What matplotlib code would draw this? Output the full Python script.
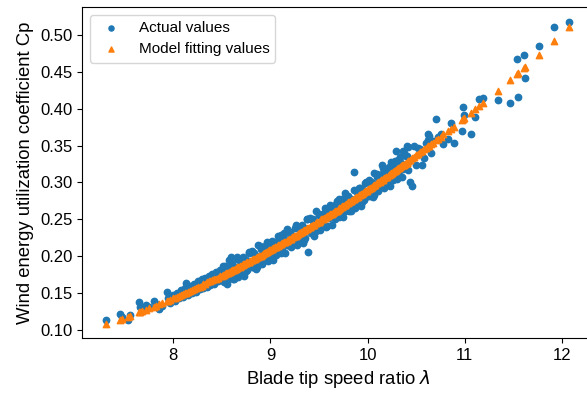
import matplotlib
matplotlib.use("Agg")
import matplotlib.pyplot as plt

plt.rcParams['font.family'] = ['Liberation Sans', 'DejaVu Sans']

# Blade tip speed ratio (lambda) for each sample
lam = [
    7.31, 7.45, 7.47, 7.53, 7.55, 7.65, 7.66, 7.68, 7.72, 7.75, 7.80, 7.82, 7.85, 7.88,
    7.93, 7.95, 7.97, 8.00, 8.02, 8.04, 8.06, 8.08, 8.10, 8.12, 8.13, 8.15, 8.17, 8.19,
    8.21, 8.23, 8.25, 8.27, 8.29, 8.31, 8.33, 8.35, 8.37, 8.38, 8.40, 8.42, 8.44, 8.46,
    8.48, 8.50,
    8.51, 8.52, 8.54, 8.55, 8.57, 8.58, 8.60, 8.61, 8.63, 8.64, 8.66, 8.67, 8.69, 8.70,
    8.72, 8.73, 8.75, 8.76, 8.78, 8.79, 8.81, 8.82, 8.84, 8.85, 8.87, 8.88, 8.90, 8.91,
    8.93, 8.94, 8.96, 8.97, 8.99, 9.00, 9.02, 9.03, 9.05, 9.06, 9.08, 9.09, 9.11, 9.12,
    9.14, 9.15, 9.17, 9.18, 9.20, 9.21, 9.23, 9.24, 9.26, 9.27, 9.29, 9.30, 9.32, 9.33,
    9.35, 9.36, 9.38, 9.39, 9.41, 9.42, 9.44, 9.45, 9.47, 9.48, 9.50, 9.51, 9.53, 9.54,
    9.56, 9.57, 9.59, 9.60, 9.62, 9.63, 9.65, 9.66, 9.68, 9.69, 9.71, 9.72, 9.74, 9.75,
    9.77, 9.78, 9.80, 9.81, 9.83, 9.84, 9.86, 9.87, 9.89, 9.90, 9.92, 9.93, 9.95, 9.96,
    9.98, 9.99, 10.01, 10.02, 10.04, 10.05, 10.07, 10.08, 10.10, 10.11, 10.13, 10.14,
    10.16, 10.17, 10.19, 10.20, 10.22, 10.23, 10.25, 10.26, 10.28, 10.29, 10.31, 10.32,
    10.34, 10.35, 10.37, 10.38, 10.40, 10.42, 10.44, 10.46, 10.48, 10.50,
    8.59, 10.15, 10.24, 10.29, 10.36, 10.42, 10.40,
    10.52, 10.54, 10.56, 10.58, 10.60, 10.62, 10.63, 10.65, 10.67, 10.70, 10.72, 10.62,
    10.75, 10.78, 10.83, 10.86, 10.885, 10.97, 10.98, 10.99, 11.06, 11.11, 11.15, 11.19,
    11.34, 11.47, 11.54, 11.55, 11.61, 11.62, 11.76, 11.92, 12.07,
    8.535, 8.565, 8.595, 8.625, 8.655, 8.685, 8.715, 8.745, 8.775, 8.805, 8.835, 8.865,
    8.895, 8.925, 8.955, 8.985, 9.015, 9.045, 9.075, 9.105, 9.135, 9.165, 9.195, 9.225,
    9.255, 9.285, 9.315, 9.345, 9.375, 9.405, 9.435, 9.465, 9.495, 9.525, 9.555, 9.585,
    9.615, 9.645, 9.675, 9.705, 9.735, 9.765, 9.795, 9.825, 9.855, 9.885, 9.915, 9.945,
    9.975, 10.005, 10.035, 10.065, 10.095, 10.125, 10.155, 10.185, 10.215, 10.245, 10.275,
    10.305, 10.335, 10.365, 10.395,
]

# Measured (actual) wind energy utilization coefficient Cp
cp_actual = [
    0.114, 0.122, 0.118, 0.114, 0.121, 0.138, 0.132, 0.128, 0.134, 0.131, 0.140, 0.135, 0.129, 0.133,
    0.152, 0.144, 0.137, 0.148, 0.139, 0.151, 0.143, 0.155, 0.145, 0.157, 0.164, 0.148, 0.160, 0.151,
    0.163, 0.152, 0.166, 0.156, 0.169, 0.157, 0.171, 0.159, 0.174, 0.161, 0.176, 0.163, 0.179, 0.166,
    0.182, 0.168,
    0.187, 0.165, 0.182, 0.162, 0.195, 0.173, 0.190, 0.169, 0.185, 0.175, 0.199, 0.172, 0.194, 0.183,
    0.199, 0.174, 0.195, 0.181, 0.206, 0.187, 0.207, 0.186, 0.202, 0.183, 0.215, 0.194, 0.210, 0.190,
    0.206, 0.196, 0.220, 0.194, 0.215, 0.205, 0.220, 0.195, 0.216, 0.202, 0.228, 0.208, 0.229, 0.208,
    0.224, 0.205, 0.237, 0.216, 0.233, 0.212, 0.228, 0.219, 0.242, 0.216, 0.238, 0.227, 0.243, 0.218,
    0.239, 0.225, 0.251, 0.206, 0.252, 0.231, 0.248, 0.228, 0.261, 0.240, 0.256, 0.236, 0.252, 0.243,
    0.266, 0.240, 0.262, 0.252, 0.267, 0.242, 0.264, 0.250, 0.275, 0.256, 0.277, 0.256, 0.273, 0.253,
    0.286, 0.265, 0.282, 0.262, 0.277, 0.268, 0.314, 0.266, 0.287, 0.277, 0.293, 0.268, 0.290, 0.276,
    0.301, 0.282, 0.303, 0.282, 0.299, 0.280, 0.313, 0.291, 0.308, 0.288, 0.304, 0.295,
    0.319, 0.293, 0.315, 0.304, 0.320, 0.295, 0.317, 0.303, 0.329, 0.310, 0.331, 0.310,
    0.327, 0.308, 0.340, 0.319, 0.336, 0.317, 0.300, 0.295, 0.349, 0.324,
    0.199, 0.324, 0.328, 0.342, 0.342, 0.348, 0.349,
    0.347, 0.345, 0.324, 0.333, 0.354, 0.357, 0.363, 0.340, 0.356, 0.386, 0.362, 0.366,
    0.366, 0.352, 0.359, 0.380, 0.354, 0.370, 0.402, 0.392, 0.366, 0.388, 0.413, 0.415,
    0.411, 0.407, 0.467, 0.416, 0.473, 0.441, 0.485, 0.511, 0.517,
    0.187, 0.169, 0.187, 0.169, 0.197, 0.180, 0.197, 0.180, 0.204, 0.186, 0.204, 0.186,
    0.214, 0.197, 0.215, 0.197, 0.221, 0.203, 0.221, 0.204, 0.232, 0.215, 0.232, 0.215,
    0.239, 0.221, 0.240, 0.222, 0.250, 0.234, 0.251, 0.234, 0.258, 0.241, 0.259, 0.241,
    0.270, 0.253, 0.271, 0.253, 0.278, 0.261, 0.279, 0.262, 0.290, 0.274, 0.292, 0.274,
    0.299, 0.282, 0.300, 0.283, 0.312, 0.295, 0.313, 0.296, 0.321, 0.304, 0.322,
    0.305, 0.334, 0.318, 0.336,
]

# Model fitting values of Cp at the same lambda
cp_model = [
    0.108, 0.114, 0.115, 0.118, 0.119, 0.125, 0.125, 0.126, 0.128, 0.130, 0.132, 0.133, 0.135, 0.137,
    0.140, 0.140, 0.141, 0.143, 0.144, 0.145, 0.146, 0.148, 0.149, 0.150, 0.151, 0.152, 0.153, 0.154,
    0.156, 0.157, 0.158, 0.159, 0.160, 0.162, 0.163, 0.165, 0.166, 0.166, 0.168, 0.169, 0.170, 0.171,
    0.173, 0.174,
    0.175, 0.175, 0.177, 0.177, 0.179, 0.179, 0.181, 0.181, 0.183, 0.183, 0.185, 0.185, 0.187, 0.187,
    0.189, 0.190, 0.191, 0.192, 0.193, 0.194, 0.195, 0.196, 0.197, 0.198, 0.199, 0.200, 0.201, 0.202,
    0.204, 0.204, 0.206, 0.207, 0.208, 0.209, 0.210, 0.211, 0.212, 0.213, 0.215, 0.215, 0.217, 0.218,
    0.219, 0.220, 0.221, 0.222, 0.224, 0.224, 0.226, 0.227, 0.228, 0.229, 0.231, 0.231, 0.233, 0.234,
    0.235, 0.236, 0.238, 0.239, 0.240, 0.241, 0.243, 0.243, 0.245, 0.246, 0.247, 0.248, 0.250, 0.251,
    0.252, 0.253, 0.255, 0.256, 0.257, 0.258, 0.260, 0.261, 0.262, 0.263, 0.265, 0.266, 0.268, 0.268,
    0.270, 0.271, 0.273, 0.274, 0.275, 0.276, 0.278, 0.279, 0.280, 0.281, 0.283, 0.284, 0.286, 0.287,
    0.288, 0.289, 0.291, 0.292, 0.294, 0.295, 0.297, 0.297, 0.299, 0.300, 0.302, 0.303,
    0.305, 0.306, 0.308, 0.308, 0.310, 0.311, 0.313, 0.314, 0.316, 0.317, 0.319, 0.320,
    0.322, 0.323, 0.324, 0.325, 0.327, 0.329, 0.331, 0.333, 0.335, 0.337,
    0.180, 0.304, 0.312, 0.317, 0.323, 0.329, 0.327,
    0.339, 0.341, 0.343, 0.345, 0.347, 0.349, 0.350, 0.352, 0.354, 0.357, 0.359, 0.349,
    0.362, 0.365, 0.370, 0.373, 0.375, 0.385, 0.386, 0.387, 0.394, 0.400, 0.404, 0.408,
    0.424, 0.439, 0.447, 0.448, 0.455, 0.456, 0.472, 0.491, 0.510,
    0.176, 0.178, 0.180, 0.182, 0.184, 0.186, 0.188, 0.191, 0.193, 0.195, 0.197, 0.199,
    0.201, 0.203, 0.206, 0.208, 0.210, 0.212, 0.214, 0.217, 0.219, 0.221, 0.223, 0.226,
    0.228, 0.230, 0.233, 0.235, 0.237, 0.240, 0.242, 0.245, 0.247, 0.250, 0.252, 0.254,
    0.257, 0.259, 0.262, 0.264, 0.267, 0.270, 0.272, 0.275, 0.277, 0.280, 0.283, 0.285,
    0.288, 0.291, 0.293, 0.296, 0.299, 0.301, 0.304, 0.307, 0.310, 0.313, 0.315,
    0.318, 0.321, 0.324, 0.327,
]

x_ticks = [8, 9, 10, 11, 12]
y_ticks = [0.10, 0.15, 0.20, 0.25, 0.30, 0.35, 0.40, 0.45, 0.50]

fig = plt.figure(figsize=(5.87, 3.94), dpi=100)
ax = fig.add_axes([82 / 587, 56 / 394, 513 / 587, 331 / 394])

ax.scatter(lam, cp_actual, s=21, marker='o', color='#1f77b4', label='Actual values')
ax.scatter(lam, cp_model, s=21, marker='^', color='#ff7f0e', label='Model fitting values')

ax.set_xlim(7.06, 12.34)
ax.set_ylim(0.0895, 0.5375)
ax.set_xticks(x_ticks)
ax.set_yticks(y_ticks)
ax.set_yticklabels([f"{v:.2f}" for v in y_ticks])
ax.tick_params(labelsize=12)

ax.set_xlabel(r"Blade tip speed ratio $\lambda$", fontsize=13.3)
ax.set_ylabel("Wind energy utilization coefficient Cp", fontsize=13.3)

ax.legend(loc='upper left', fontsize=11, markerscale=0.8)

fig.savefig("out.png", dpi=100)
